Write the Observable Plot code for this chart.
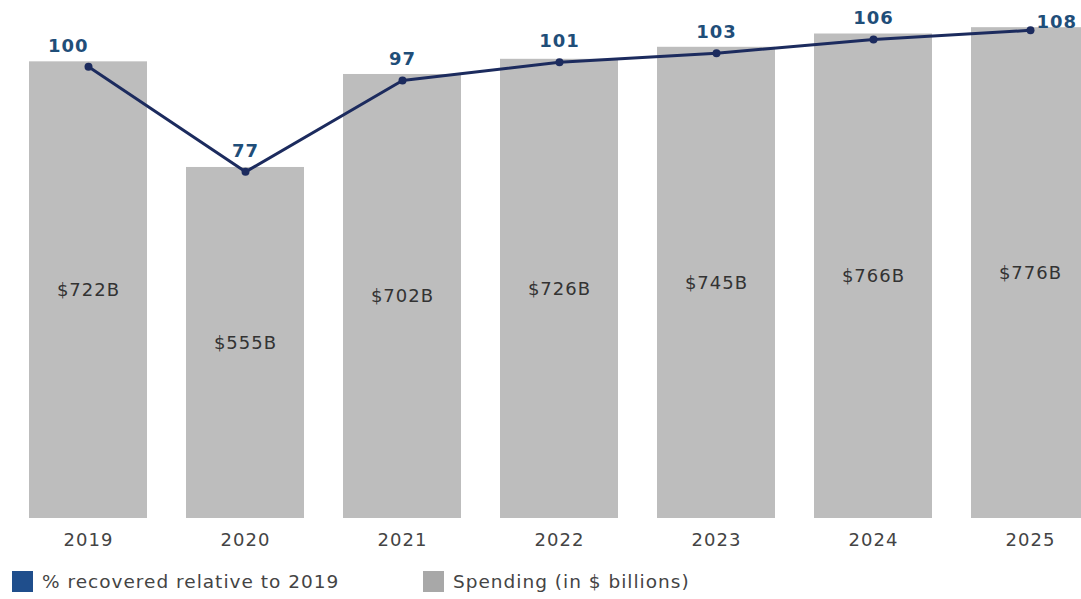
<!DOCTYPE html>
<html>
<head>
<meta charset="utf-8">
<script src="https://cdn.jsdelivr.net/npm/d3@7"></script>
<script src="https://cdn.jsdelivr.net/npm/@observablehq/plot@0.6"></script>
<style>
  html, body { margin: 0; padding: 0; background: #fff; overflow: hidden; }
  body { width: 1081px; height: 599px; font-family: "DejaVu Sans", Verdana, sans-serif; }
  #legend { position: relative; height: 39px; font-size: 18.5px; letter-spacing: 1px; color: #444; }
  .item { position: absolute; top: 11px; display: flex; align-items: center; }
  .sw { width: 21px; height: 21px; margin-right: 9px; }
  svg text { letter-spacing: 1px; }
</style>
</head>
<body>
<div id="chart"></div>
<div id="legend">
  <div class="item" style="left:12px"><span class="sw" style="background:#1f4e8c"></span><span>% recovered relative to 2019</span></div>
  <div class="item" style="left:423px"><span class="sw" style="background:#a8a8a8"></span><span>Spending (in $ billions)</span></div>
</div>
<script>
const years = ["2019", "2020", "2021", "2022", "2023", "2024", "2025"];
const spending = [722, 555, 702, 726, 745, 766, 776];
const recovered = [100, 77, 97, 101, 103, 106, 108];

const base = spending[0];
const data = years.map((year, i) => ({
  year,
  spending: spending[i],
  pct: recovered[i],
  pctY: recovered[i] * base / 100,
  label: `$${spending[i]}B`
}));

const chart = Plot.plot({
  width: 1081,
  height: 560,
  marginTop: 12,
  marginBottom: 42,
  marginLeft: 0,
  marginRight: 0,
  style: { fontFamily: "DejaVu Sans, Verdana, sans-serif", background: "#fff" },
  x: { type: "band", domain: years, range: [0, 1117], paddingInner: 0.25, paddingOuter: 0.171 },
  y: { domain: [0, 800], axis: null },
  marks: [
    Plot.barY(data, { x: "year", y: "spending", fill: "#bdbdbd" }),
    Plot.text(data, { x: "year", y: d => d.spending / 2, text: "label", fill: "#333", fontSize: 18 }),
    Plot.line(data, { x: "year", y: "pctY", dy: 5, stroke: "#1c2b5e", strokeWidth: 3 }),
    Plot.dot(data, { x: "year", y: "pctY", dy: 5, r: 4, fill: "#1c2b5e" }),
    Plot.text(data.slice(1, -1), { x: "year", y: "pctY", text: "pct", dy: -16, fill: "#1f4e79", fontWeight: "bold", fontSize: 18 }),
    Plot.text(data.slice(0, 1), { x: "year", y: "pctY", text: "pct", dy: -16, dx: 0, textAnchor: "end", fill: "#1f4e79", fontWeight: "bold", fontSize: 18 }),
    Plot.text(data.slice(-1), { x: "year", y: "pctY", text: "pct", dy: -3, dx: 6, textAnchor: "start", fill: "#1f4e79", fontWeight: "bold", fontSize: 18 }),
    Plot.axisX({ tickSize: 0, tickPadding: 15, fontSize: 18, color: "#444", label: null })
  ]
});
document.getElementById("chart").appendChild(chart);
</script>
</body>
</html>
